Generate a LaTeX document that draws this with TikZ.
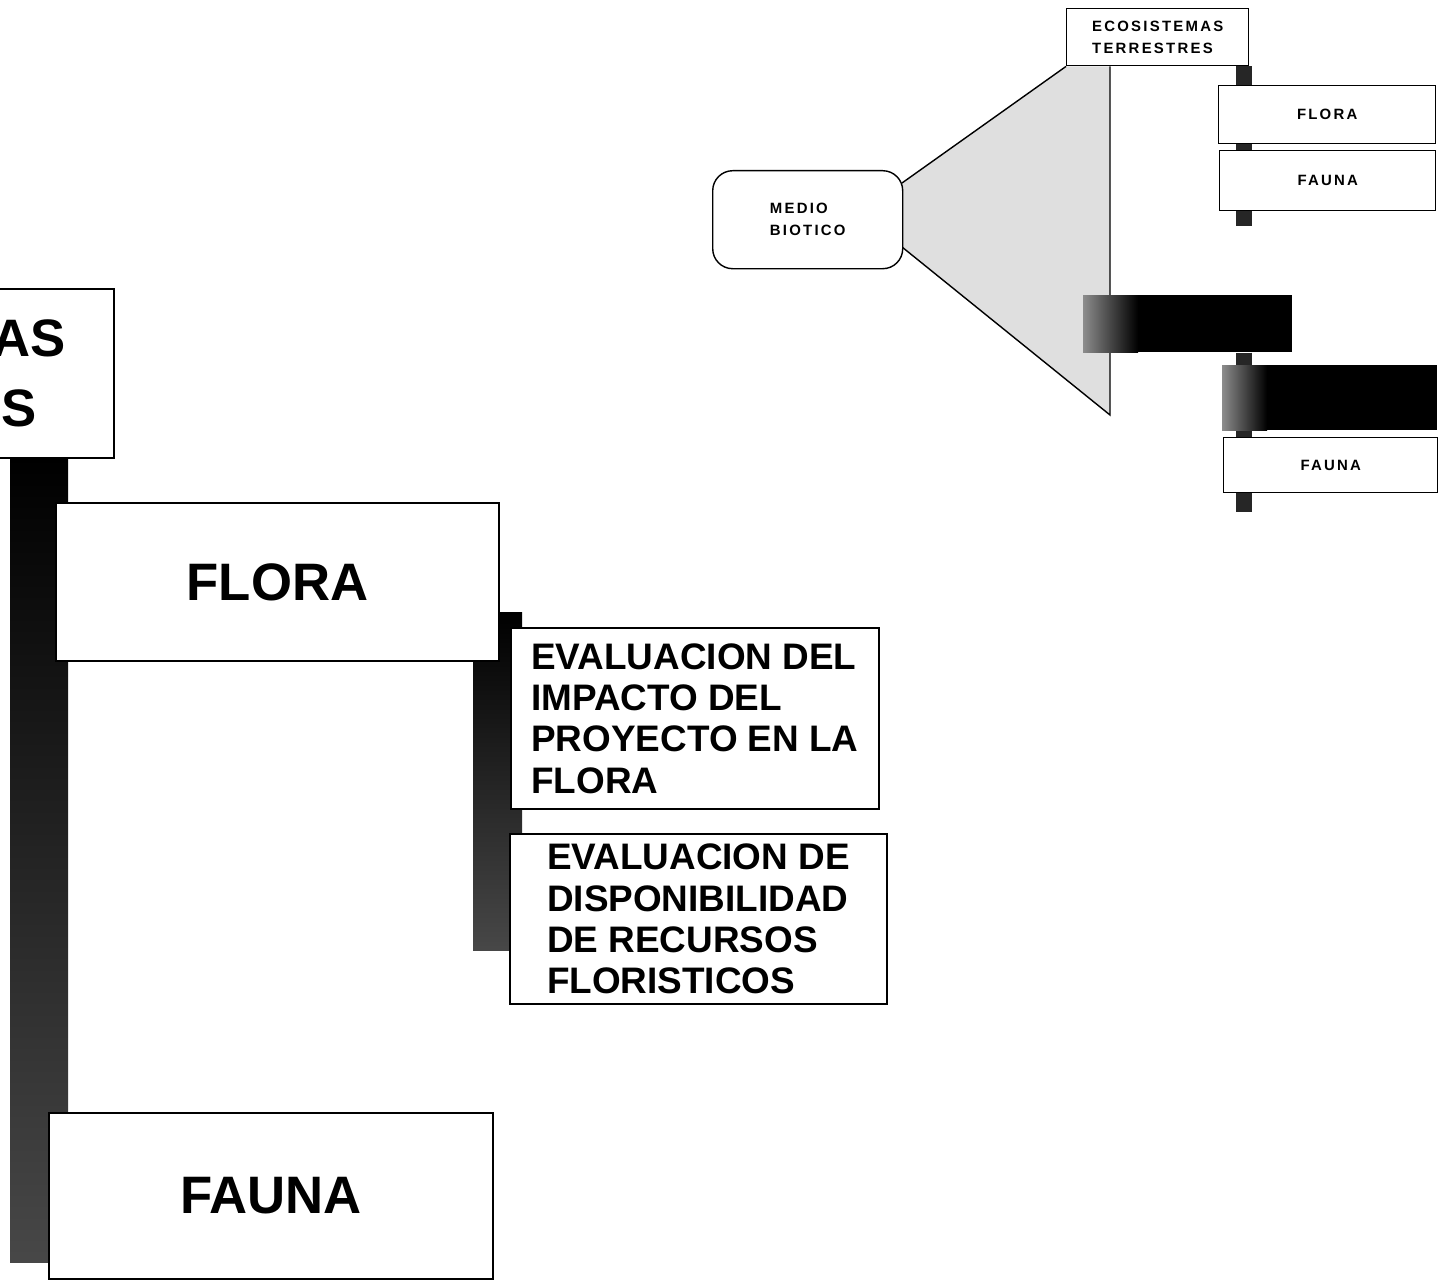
\documentclass[tikz,border=0pt]{standalone}
\usepackage{fontspec}
\setmainfont{Liberation Sans}
\newfontfamily\spacedsans[LetterSpace=15]{Liberation Sans}
\usepackage{tikz}

\begin{document}
\begin{tikzpicture}[x=0.02cm, y=-0.02cm,
    box/.style={draw, line width=1.1pt, fill=white, anchor=north west, inner sep=0pt},
    smallbox/.style={box, line width=0.8pt},
    big/.style={font=\fontsize{30}{40}\selectfont\bfseries},
    evaltxt/.style={font=\fontsize{21}{23.5}\selectfont\bfseries, align=left},
    tinytxt/.style={font=\spacedsans\fontsize{8.5}{12.5}\selectfont\bfseries, align=left},
    darkbox/.style={fill=black, anchor=north west, inner sep=0pt},
    link/.style={line width=0.32cm, black!85},
    spine/.style={top color=black, bottom color=black!72},
]
\def\u{0.02cm}
\useasboundingbox (0,0) rectangle (1452,1284);
\clip (0,0) rectangle (1452,1284);

\shade[spine] (10,457) rectangle (68,1262);
\shade[spine] (473,612) rectangle (522,950);

\node[box, big, align=left, anchor=north east, text width=400*\u, inner xsep=32*\u, minimum height=169*\u] (ecoB) at (115,288) {ECOSISTEMAS\\TERRESTRES};
\node[box, big, minimum width=443*\u, minimum height=158*\u] (flora) at (55,502) {FLORA};
\node[box, big, minimum width=444*\u, minimum height=166*\u] (fauna) at (48,1112) {FAUNA};
\node[box, evaltxt, minimum width=368*\u, minimum height=181*\u] (impacto) at (510,627) {EVALUACION DEL\\IMPACTO DEL\\PROYECTO EN LA\\FLORA};
\node[box, evaltxt, minimum width=377*\u, minimum height=170*\u] (recursos) at (509,833) {EVALUACION DE\\DISPONIBILIDAD\\DE RECURSOS\\FLORISTICOS};

\node[smallbox, tinytxt, minimum width=182*\u, minimum height=57*\u] (ecoS) at (1066,8) {ECOSISTEMAS\\TERRESTRES};
\coordinate (endA) at (1244,226);
\coordinate (endB) at (1244,512);

\fill[gray!25] (902,183) -- (ecoS.south west) -- (1110,0 |- ecoS.south) -- (1110,415) -- (902,247) -- cycle;
\draw[line width=0.8pt] (902,183) -- (ecoS.south west);
\draw[line width=0.8pt] (1110,0 |- ecoS.south) -- (1110,415) -- (902,247);

\node[smallbox, tinytxt, rounded corners=0.4cm, minimum width=190*\u, minimum height=98*\u] (medio) at (712,170) {MEDIO\\BIOTICO};

\node[smallbox, tinytxt, minimum width=217*\u, minimum height=58*\u] (floraS) at (1218,85) {FLORA};
\node[smallbox, tinytxt, minimum width=216*\u, minimum height=60*\u] (faunaS) at (1219,150) {FAUNA};
\node[darkbox, minimum width=209*\u, minimum height=57*\u] (darkA) at (1083,295) {};
\node[darkbox, minimum width=215*\u, minimum height=65*\u] (darkB) at (1222,365) {};
\node[smallbox, tinytxt, minimum width=214*\u, minimum height=55*\u] (faunaS2) at (1223,437) {FAUNA};
\shade[left color=black!45, right color=black] (darkA.north west) rectangle ([xshift=55*\u]darkA.south west);
\shade[left color=black!45, right color=black] (darkB.north west) rectangle ([xshift=45*\u]darkB.south west);

\draw[link] (1244,0 |- ecoS.south) -- (1244,0 |- floraS.north);
\draw[link] (1244,0 |- floraS.south) -- (1244,0 |- faunaS.north);
\draw[link] (1244,0 |- faunaS.south) -- (endA);
\draw[link] (1244,0 |- darkA.south) -- (1244,0 |- darkB.north);
\draw[link] (1244,0 |- darkB.south) -- (1244,0 |- faunaS2.north);
\draw[link] (1244,0 |- faunaS2.south) -- (endB);
\end{tikzpicture}
\end{document}
